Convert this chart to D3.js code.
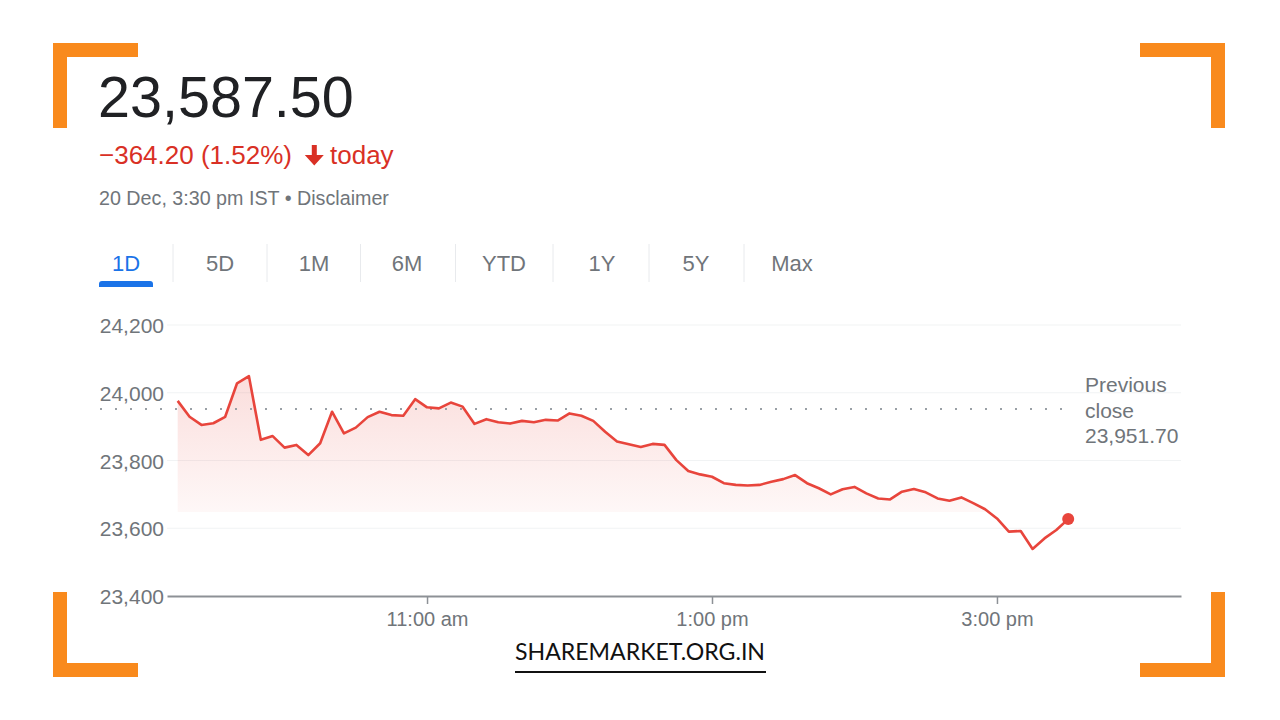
<!DOCTYPE html>
<html>
<head>
<meta charset="utf-8">
<script src="https://cdn.jsdelivr.net/npm/d3@7"></script>
<style>
  html, body { margin: 0; padding: 0; background: #fff; }
  svg { display: block; font-family: "Liberation Sans", Arial, sans-serif; }
</style>
</head>
<body>
<svg width="1280" height="720"></svg>
<script>
const width = 1280, height = 720;
const svg = d3.select("svg").attr("viewBox", [0, 0, width, height]);

// Data
const times = [
  "09:15","09:20","09:25","09:30","09:35","09:40","09:45","09:50","09:55",
  "10:00","10:05","10:10","10:15","10:20","10:25","10:30","10:35","10:40","10:45","10:50","10:55",
  "11:00","11:05","11:10","11:15","11:20","11:25","11:30","11:35","11:40","11:45","11:50","11:55",
  "12:00","12:05","12:10","12:15","12:20","12:25","12:30","12:35","12:40","12:45","12:50","12:55",
  "13:00","13:05","13:10","13:15","13:20","13:25","13:30","13:35","13:40","13:45","13:50","13:55",
  "14:00","14:05","14:10","14:15","14:20","14:25","14:30","14:35","14:40","14:45","14:50","14:55",
  "15:00","15:05","15:10","15:15","15:20","15:25","15:30"
];
const prices = [
  23976, 23929, 23905, 23910, 23929, 24028, 24049, 23861, 23872,
  23838, 23846, 23816, 23851, 23944, 23880, 23897, 23928, 23944, 23934, 23932, 23981,
  23957, 23954, 23971, 23959, 23908, 23922, 23913, 23909, 23917, 23913, 23920, 23918,
  23939, 23932, 23917, 23885, 23856, 23848, 23840, 23849, 23846, 23801, 23769, 23759,
  23752, 23733, 23728, 23726, 23728, 23737, 23745, 23757, 23733, 23718, 23700, 23715,
  23722, 23703, 23688, 23685, 23708, 23716, 23706, 23688, 23681, 23691, 23674, 23656,
  23629, 23590, 23592, 23539, 23570, 23595, 23627
];
const lastPrice = 23587.50;
const previousClose = 23951.70;
const fillBase = 23648;
const yTicks = [23400, 23600, 23800, 24000, 24200];
const xTicks = ["11:00", "13:00", "15:00"];
const xDomain = ["09:10:30", "16:17:30"];
const tabs = ["1D", "5D", "1M", "6M", "YTD", "1Y", "5Y", "Max"];

const parseTime = s => d3.timeParse(s.length > 5 ? "%H:%M:%S" : "%H:%M")(s);
const data = times.map((t, i) => ({ t: parseTime(t), v: prices[i] }));

const red = "#e8453c", grey = "#70757a";

svg.append("rect").attr("width", width).attr("height", height).attr("fill", "#fff");

// --- Orange corner brackets ---
const orange = "#f98a1d";
const corners = [
  [53, 43, 1, 1], [1225, 43, -1, 1], [53, 677, 1, -1], [1225, 677, -1, -1]
];
const gCorners = svg.append("g").attr("fill", orange);
corners.forEach(([cx, cy, sx, sy]) => {
  gCorners.append("rect")
    .attr("x", sx > 0 ? cx : cx - 85).attr("y", sy > 0 ? cy : cy - 14)
    .attr("width", 85).attr("height", 14);
  gCorners.append("rect")
    .attr("x", sx > 0 ? cx : cx - 14).attr("y", sy > 0 ? cy : cy - 85)
    .attr("width", 14).attr("height", 85);
});

// --- Header ---
svg.append("text").attr("x", 98).attr("y", 117)
  .attr("font-size", 57.5).attr("fill", "#202124")
  .text(d3.format(",.2f")(lastPrice));

const change = svg.append("g").attr("fill", "#d93025").attr("font-size", 26);
change.append("text").attr("x", 99).attr("y", 164)
  .text(`−${d3.format(".2f")(previousClose - lastPrice)} (${d3.format(".2f")((previousClose - lastPrice) / previousClose * 100)}%)`);
change.append("path")
  .attr("d", "M311.8,145 h5 v10 h7 l-9.5,10.5 l-9.5,-10.5 h7 Z");
change.append("text").attr("x", 330).attr("y", 164).text("today");

svg.append("text").attr("x", 99).attr("y", 205)
  .attr("font-size", 19.7).attr("fill", grey)
  .text("20 Dec, 3:30 pm IST • Disclaimer");

// --- Range tabs ---
const tabCenters = [126, 220, 314, 407, 504, 602, 696, 792];
const gTabs = svg.append("g");
gTabs.selectAll("text").data(tabs).join("text")
  .attr("x", (d, i) => tabCenters[i]).attr("y", 271)
  .attr("text-anchor", "middle").attr("font-size", 22)
  .attr("fill", (d, i) => i === 0 ? "#1a73e8" : grey)
  .text(d => d);
gTabs.selectAll("line").data(tabCenters.slice(1)).join("line")
  .attr("x1", (d, i) => (d + tabCenters[i]) / 2).attr("x2", (d, i) => (d + tabCenters[i]) / 2)
  .attr("y1", 244).attr("y2", 282)
  .attr("stroke", "#e8eaed").attr("stroke-width", 1);
gTabs.append("path")
  .attr("d", "M99,287 v-3 q0,-3 3,-3 h48 q3,0 3,3 v3 Z")
  .attr("fill", "#1a73e8");

// --- Chart ---
const x = d3.scaleTime().domain(xDomain.map(parseTime)).range([167, 1181]);
const y = d3.scaleLinear().domain([23400, 24200]).range([596, 325]);

// grid lines
svg.append("g").selectAll("line").data(yTicks.slice(1)).join("line")
  .attr("x1", 167).attr("x2", 1181)
  .attr("y1", d => y(d)).attr("y2", d => y(d))
  .attr("stroke", "#f1f3f4").attr("stroke-width", 1.2);

// y labels
svg.append("g").selectAll("text").data(yTicks).join("text")
  .attr("x", 164).attr("y", d => y(d) + 8)
  .attr("text-anchor", "end").attr("font-size", 21).attr("fill", grey)
  .text(d => d3.format(",")(d));

// gradient fill under the line
const defs = svg.append("defs");
const grad = defs.append("linearGradient").attr("id", "fillGrad")
  .attr("gradientUnits", "userSpaceOnUse")
  .attr("x1", 0).attr("x2", 0).attr("y1", y(24050)).attr("y2", y(fillBase));
grad.append("stop").attr("offset", 0).attr("stop-color", red).attr("stop-opacity", 0.18);
grad.append("stop").attr("offset", 1).attr("stop-color", red).attr("stop-opacity", 0.04);
defs.append("clipPath").attr("id", "aboveBase")
  .append("rect").attr("x", 0).attr("y", 0).attr("width", width).attr("height", y(fillBase));

svg.append("path").datum(data)
  .attr("clip-path", "url(#aboveBase)")
  .attr("fill", "url(#fillGrad)")
  .attr("d", d3.area().x(d => x(d.t)).y0(y(fillBase)).y1(d => y(d.v)));

// previous close dotted line
svg.append("line")
  .attr("x1", 100).attr("x2", 1075)
  .attr("y1", y(previousClose)).attr("y2", y(previousClose))
  .attr("stroke", "#9aa0a6").attr("stroke-width", 2)
  .attr("stroke-dasharray", "2 13");

const pc = svg.append("text").attr("font-size", 21).attr("fill", grey);
["Previous", "close", d3.format(",.2f")(previousClose)].forEach((s, i) => {
  pc.append("tspan").attr("x", 1085).attr("y", 392 + i * 25.5).text(s);
});

// price line
svg.append("path").datum(data)
  .attr("fill", "none").attr("stroke", red)
  .attr("stroke-width", 2.6).attr("stroke-linejoin", "round")
  .attr("d", d3.line().x(d => x(d.t)).y(d => y(d.v)));

const last = data[data.length - 1];
svg.append("circle")
  .attr("cx", x(last.t)).attr("cy", y(last.v)).attr("r", 6)
  .attr("fill", red);

// x axis
const xAxis = svg.append("g").attr("transform", `translate(0,${y(23400)})`)
  .call(d3.axisBottom(x)
    .tickValues(xTicks.map(parseTime))
    .tickSize(8).tickSizeOuter(0)
    .tickFormat(d => d3.timeFormat("%-I:%M %p")(d).toLowerCase()));
xAxis.select(".domain").attr("stroke", "#8d9196").attr("stroke-width", 1.8);
xAxis.selectAll(".tick line").attr("stroke", "#8d9196").attr("stroke-width", 1.5);
xAxis.selectAll(".tick text")
  .attr("font-family", "Liberation Sans, Arial, sans-serif")
  .attr("font-size", 20).attr("fill", grey).attr("dy", 0).attr("y", 30);

// --- Footer brand ---
svg.append("text").attr("x", 515).attr("y", 660)
  .attr("font-family", "Lato, 'Open Sans', sans-serif")
  .attr("font-size", 24).attr("fill", "#111")
  .attr("textLength", 250).attr("lengthAdjust", "spacingAndGlyphs")
  .text("SHAREMARKET.ORG.IN");
svg.append("rect").attr("x", 515).attr("y", 671).attr("width", 251).attr("height", 2).attr("fill", "#111");
</script>
</body>
</html>
